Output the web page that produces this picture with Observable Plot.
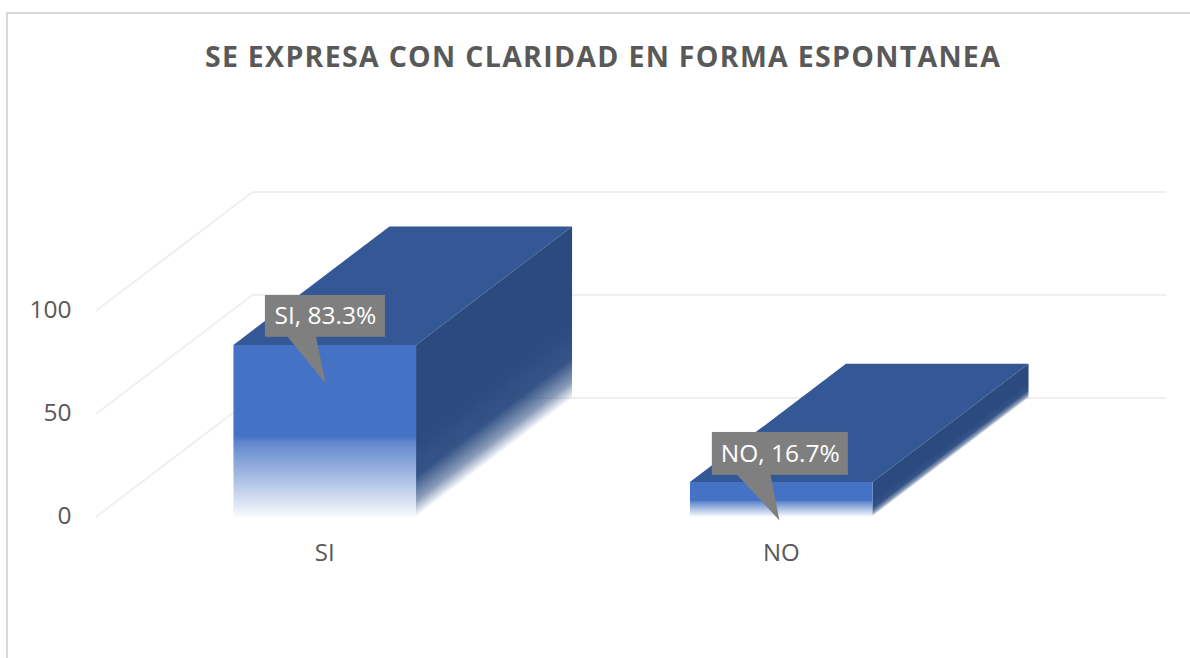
<!DOCTYPE html>
<html>
<head>
<meta charset="utf-8">
<script src="https://cdn.jsdelivr.net/npm/d3@7"></script>
<script src="https://cdn.jsdelivr.net/npm/@observablehq/plot@0.6"></script>
<style>
  html, body { margin: 0; padding: 0; background: #fff; overflow: hidden; }
  #page { position: relative; width: 1190px; height: 658px; overflow: hidden; }
  #frame { position: absolute; left: 6px; top: 12px; width: 1190px; height: 700px;
           border-left: 2px solid #d9d9d9; border-top: 2px solid #d9d9d9; }
  #title { position: relative; height: 85px; width: 1206px; text-align: center; box-sizing: border-box; padding-top: 39px;
           font: 700 28.5px/34px "Open Sans", sans-serif; letter-spacing: 1.3px; color: #595959; white-space: nowrap; }
  #chart { position: relative; }
  svg { display: block; }
</style>
</head>
<body>
<div id="page">
  <div id="frame"></div>
  <div id="title">SE EXPRESA CON CLARIDAD EN FORMA ESPONTANEA</div>
  <div id="chart"></div>
</div>
<script>
// Data
const categories = ["SI", "NO"];
const values = [83.3, 16.7];
const yTicks = [0, 50, 100];
const labelPercent = ["83.3%", "16.7%"];
// Callout geometry in data units
const boxLeft = [-0.130, 0.849];
const boxRight = [0.133, 1.147];
const boxTop = [107.3, 40.8];
const boxBottom = [87.0, 20.0];
const tipX = [0.002, 0.996];
const tipY = [64.6, -1.9];
const tipBaseLeft = [-0.084, 0.9];
const tipBaseRight = [-0.02, 0.976];

// 3D projection constants
const depthX = 0.3417, depthY = 57.5, halfBar = 0.2;
const frontColor = "#4472c4", topColor = "#345896", sideColor = "#2a4a80", gridColor = "#efefef", textColor = "#595959";
const fadeStart = 0.53;

const wall = [-0.5, 1.5];
const gridSide = yTicks.flatMap(t => [
  {t, x: wall[0], y: t},
  {t, x: wall[0] + depthX, y: t + depthY},
  {t, x: wall[1] + depthX, y: t + depthY}
]);

function face(points) { return points.map(([x, y]) => ({x, y})); }

const barMarks = categories.flatMap((c, i) => {
  const l = i - halfBar, r = i + halfBar, v = values[i];
  return [
    Plot.line(face([[l, v], [r, v], [r + depthX, v + depthY], [l + depthX, v + depthY], [l, v]]),
      {x: "x", y: "y", fill: topColor, stroke: "none", curve: "linear"}),
    Plot.line(face([[r, 0], [r, v], [r + depthX, v + depthY], [r + depthX, depthY], [r, 0]]),
      {x: "x", y: "y", fill: `url(#side${i})`, stroke: "none", curve: "linear"}),
    Plot.line(face([[l, 0], [l, v], [r, v], [r, 0], [l, 0]]),
      {x: "x", y: "y", fill: `url(#front${i})`, stroke: "none", curve: "linear"})
  ];
});

const calloutMarks = categories.flatMap((c, i) => [
  Plot.line(face([[tipBaseLeft[i], boxBottom[i] + 1], [tipX[i], tipY[i]], [tipBaseRight[i], boxBottom[i] + 1]]),
    {x: "x", y: "y", fill: "#7f7f7f", stroke: "none", curve: "linear"}),
  Plot.rect([i], {x1: boxLeft[i], x2: boxRight[i], y1: boxBottom[i], y2: boxTop[i], fill: "#7f7f7f"}),
  Plot.text([`${c}, ${labelPercent[i]}`], {
    x: (boxLeft[i] + boxRight[i]) / 2, y: (boxTop[i] + boxBottom[i]) / 2,
    text: d => d, fill: "#fff", fontSize: 24.5
  })
]);

function gradients(index, {x, y}) {
  const defs = d3.create("svg:defs");
  const addStops = (g, color, stops) => stops.forEach(([o, a]) =>
    g.append("stop").attr("offset", o).attr("stop-color", color).attr("stop-opacity", a));
  const angle = Math.atan2(y(depthY) - y(0), x(depthX) - x(0)) * 180 / Math.PI;
  categories.forEach((c, i) => {
    const y0 = y(0), yv = y(values[i]), ys = yv + (y0 - yv) * fadeStart, xr = x(i + halfBar);
    const f = defs.append("linearGradient").attr("id", `front${i}`)
      .attr("gradientUnits", "userSpaceOnUse").attr("x1", 0).attr("x2", 0).attr("y1", ys).attr("y2", y0);
    addStops(f, frontColor, [[0, 1], [0.08, 0.85], [1, 0.04]]);
    const s = defs.append("linearGradient").attr("id", `side${i}`)
      .attr("gradientUnits", "userSpaceOnUse").attr("x1", 0).attr("x2", 0).attr("y1", ys).attr("y2", y0)
      .attr("gradientTransform", `translate(${xr},0) skewY(${angle}) translate(${-xr},0)`);
    addStops(s, sideColor, [[0, 1], [0.5, 0.95], [0.8, 0.55], [1, 0.02]]);
  });
  return defs.node();
}

const chart = Plot.plot({
  width: 1190,
  height: 573,
  marginLeft: 96,
  marginRight: 181,
  marginTop: 225,
  marginBottom: 142,
  style: {fontFamily: '"Open Sans", sans-serif', background: "transparent", overflow: "visible"},
  x: {domain: wall, axis: null},
  y: {domain: [0, 100], axis: null},
  marks: [
    gradients,
    Plot.line(gridSide, {x: "x", y: "y", z: "t", stroke: gridColor, strokeWidth: 2, curve: "linear"}),
    ...barMarks,
    Plot.axisY({ticks: yTicks, tickSize: 0, tickPadding: 25, label: null, fontSize: 24.5, color: textColor, anchor: "left"}),
    Plot.axisX({ticks: [0, 1], tickFormat: i => categories[i], tickSize: 0, tickPadding: 27, label: null, fontSize: 24, color: textColor, anchor: "bottom"}),
    ...calloutMarks
  ]
});
document.getElementById("chart").appendChild(chart);
</script>
</body>
</html>
